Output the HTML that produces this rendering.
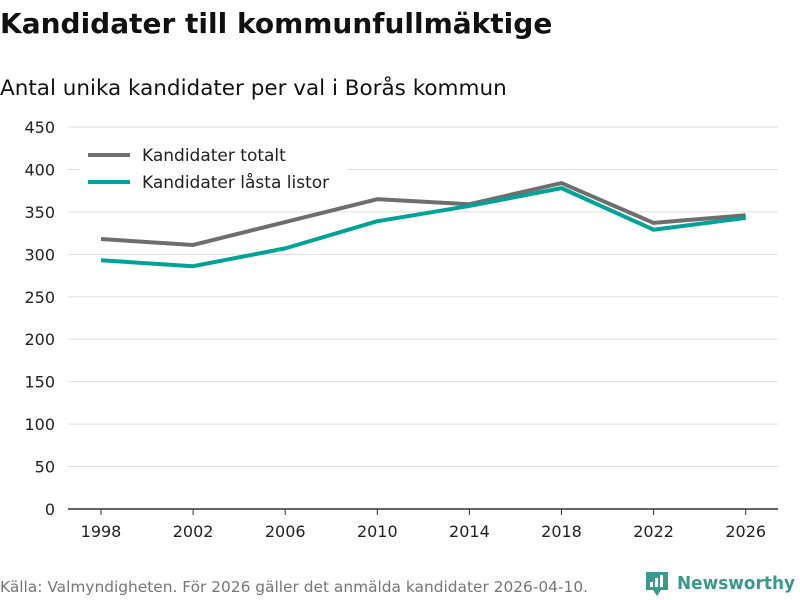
<!DOCTYPE html>
<html><head><meta charset="utf-8"><style>
body{margin:0;background:#fff;font-family:"DejaVu Sans","Liberation Sans",sans-serif;}
#wrap{position:relative;width:800px;height:600px;overflow:hidden;}
</style></head><body>
<div id="wrap">
<svg id="svg" width="800" height="600" xmlns="http://www.w3.org/2000/svg">
<text x="0" y="33" font-size="28" font-weight="bold" fill="#111">Kandidater till kommunfullmäktige</text>
<text x="0" y="95" font-size="21.5" fill="#111">Antal unika kandidater per val i Borås kommun</text>
<g id="grid"></g><g id="lines"></g>
<g>
<rect x="80" y="140" width="268" height="62" fill="#fff"/>
<line x1="88" y1="155" x2="130" y2="155" stroke="#706d6e" stroke-width="4"/>
<text x="142" y="161" font-size="17" fill="#222">Kandidater totalt</text>
<line x1="88" y1="182" x2="130" y2="182" stroke="#00a398" stroke-width="4"/>
<text x="142" y="188" font-size="17" fill="#222">Kandidater låsta listor</text>
</g>
<text x="0" y="592" font-size="15.4" fill="#777">Källa: Valmyndigheten. För 2026 gäller det anmälda kandidater 2026-04-10.</text>
<g>
<path d="M646 572 h22 v18 h-7 l-4 6 l-4 -6 h-7 z" fill="#3a9a8f"/>
<rect x="650" y="582" width="3" height="5" fill="#fff"/><rect x="655" y="578" width="3" height="9" fill="#fff"/><rect x="660" y="575" width="3" height="12" fill="#fff"/>
<text x="677" y="589" font-size="18" font-weight="bold" fill="#3a9a8f" textLength="118" lengthAdjust="spacingAndGlyphs">Newsworthy</text>
</g>
</svg>
</div>
<script>
const years=["1998","2002","2006","2010","2014","2018","2022","2026"];
const total=[318,311,338,365,359,384,337,346];
const locked=[293,286,307,339,357,378,329,343];
const yTicks=[0,50,100,150,200,250,300,350,400,450];
const NS="http://www.w3.org/2000/svg";
const x0=101,xStep=92.1,yBase=509,yTop=127,yMax=450;
const xs=i=>x0+i*xStep;
const ys=v=>yBase-(v/yMax)*(yBase-yTop);
const grid=document.getElementById('grid'),lines=document.getElementById('lines');
function mk(tag,attrs,parent){const e=document.createElementNS(NS,tag);for(const k in attrs)e.setAttribute(k,attrs[k]);parent.appendChild(e);return e;}
yTicks.forEach(t=>{
 if(t>0){const l=mk('line',{x1:68,x2:778,y1:ys(t),y2:ys(t),stroke:'#ddd','stroke-width':1},grid);
 
 }
 const tx=mk('text',{x:55,y:ys(t)+6,'font-size':16,fill:'#222','text-anchor':'end'},grid);tx.textContent=t;
 
 
});
const ax=mk('line',{x1:68,x2:778,y1:yBase,y2:yBase,stroke:'#333','stroke-width':1.5},grid);


years.forEach((y,i)=>{
 const tk=mk('line',{x1:xs(i),x2:xs(i),y1:yBase,y2:yBase+6,stroke:'#333'},grid);
 
 
 const tx=mk('text',{x:xs(i),y:537,'font-size':16,fill:'#222','text-anchor':'middle'},grid);tx.textContent=y;
 
 
});
function series(vals,color,name){
 const p=mk('polyline',{points:vals.map((v,i)=>xs(i)+','+ys(v)).join(' '),fill:'none',stroke:color,'stroke-width':4,'stroke-linejoin':'round'},lines);
 
 
}
series(total,'#706d6e','line-kandidater-totalt');
series(locked,'#00a398','line-kandidater-lasta-listor');
</script>
</body></html>
